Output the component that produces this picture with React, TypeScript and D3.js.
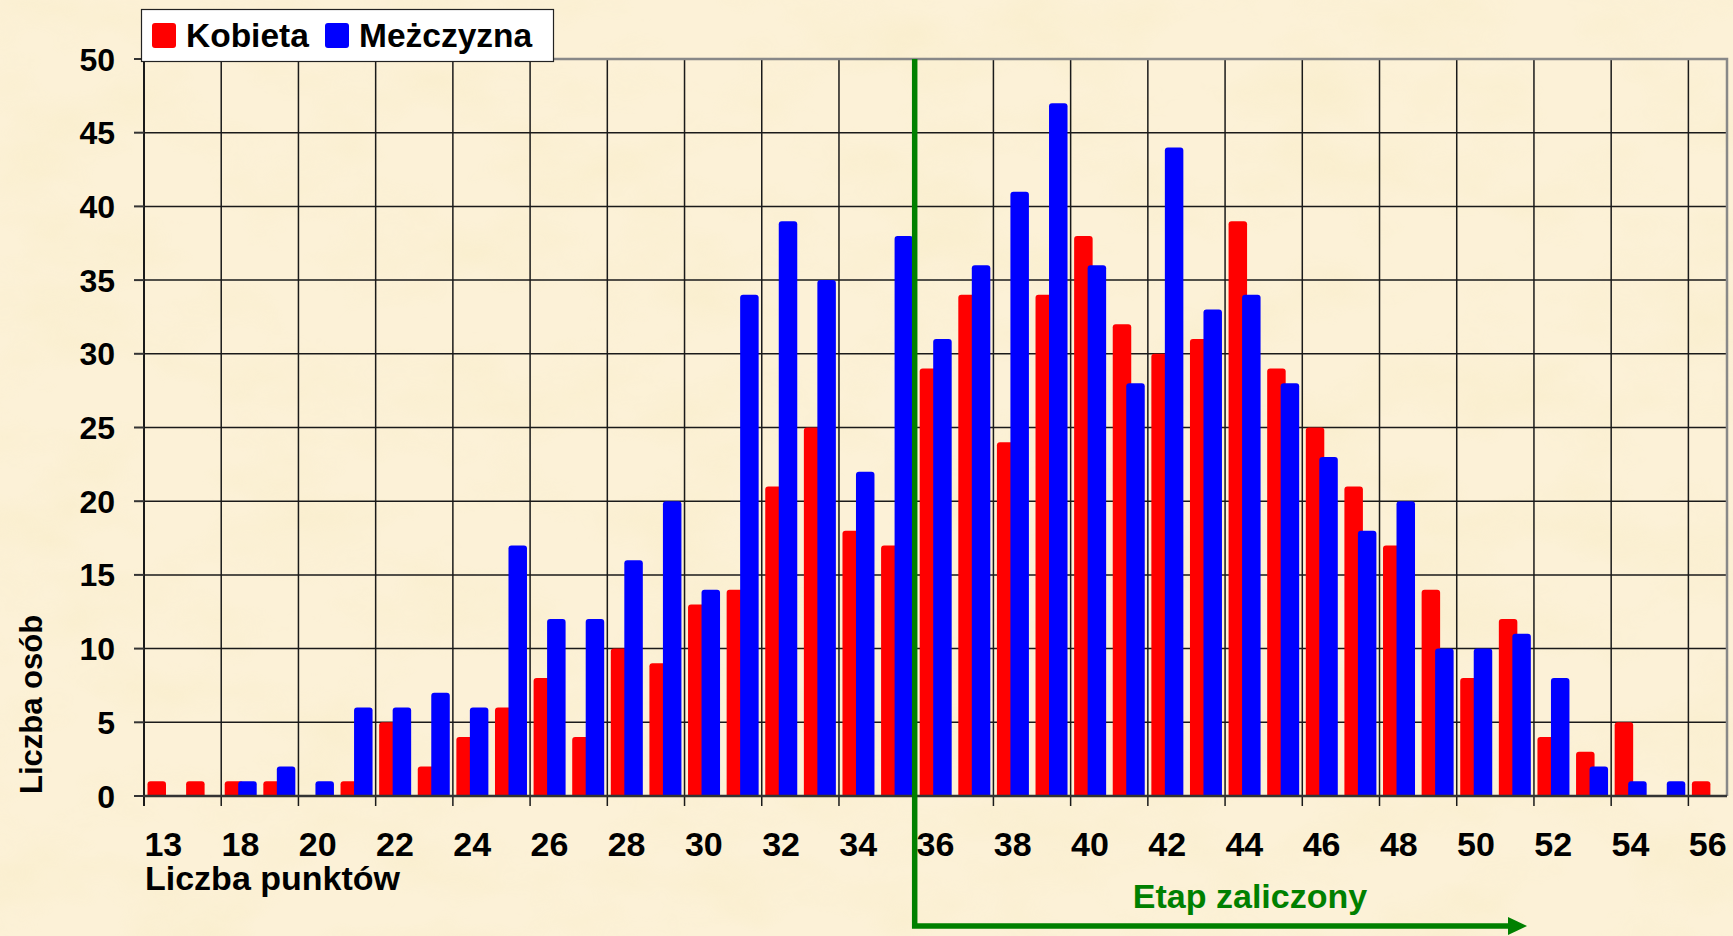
import { useEffect, useRef } from 'react'
import * as d3 from 'd3'

// Liczba punktów (the second bin has no label on the axis)
const categories = [
	'13', '17', '18', '19', '20', '21', '22', '23', '24', '25', '26', '27', '28', '29',
	'30', '31', '32', '33', '34', '35', '36', '37', '38', '39', '40', '41', '42', '43',
	'44', '45', '46', '47', '48', '49', '50', '51', '52', '53', '54', '55', '56',
]

const kobieta = [
	1, 1, 1, 1, 0, 1, 5, 2, 4, 6, 8, 4, 10, 9,
	13, 14, 21, 25, 18, 17, 29, 34, 24, 34, 38, 32, 30, 31,
	39, 29, 25, 21, 17, 14, 8, 12, 4, 3, 5, 0, 1,
]

const mezczyzna = [
	0, 0, 1, 2, 1, 6, 6, 7, 6, 17, 12, 12, 16, 20,
	14, 34, 39, 35, 22, 38, 31, 36, 41, 47, 36, 28, 44, 33,
	34, 28, 23, 18, 20, 10, 10, 11, 8, 2, 1, 1, 0,
]

const yTicks = [0, 5, 10, 15, 20, 25, 30, 35, 40, 45, 50]
const seriesNames = ['Kobieta', 'Meżczyzna']
const seriesColors = ['#ff0000', '#0000ff']
const passFrom = '36'

const FONT = '"Liberation Sans", Arial, sans-serif'

// bar with slightly rounded top corners
const barPath = (x0, y0, w, h, r) => {
	r = Math.min(r, h / 2, w / 2)
	return `M${x0},${y0 + h}V${y0 + r}Q${x0},${y0} ${x0 + r},${y0}H${x0 + w - r}Q${x0 + w},${y0} ${x0 + w},${y0 + r}V${y0 + h}Z`
}

const App = () => {
	const svgRef = useRef(null)

	useEffect(() => {
		document.body.style.margin = '0'
		document.body.style.overflow = 'hidden'

		const W = 1733
		const H = 936
		const margin = { top: 59, right: 6, bottom: 140, left: 144 }
		const bottom = H - margin.bottom

		const svg = d3.select(svgRef.current)
		svg.selectAll('*').remove()
		svg.attr('width', W).attr('height', H)

		// parchment background
		const defs = svg.append('defs')
		const filter = defs
			.append('filter')
			.attr('id', 'paper')
			.attr('x', 0)
			.attr('y', 0)
			.attr('width', '100%')
			.attr('height', '100%')
		filter
			.append('feTurbulence')
			.attr('type', 'fractalNoise')
			.attr('baseFrequency', '0.008 0.014')
			.attr('numOctaves', 4)
			.attr('seed', 7)
		filter
			.append('feColorMatrix')
			.attr('type', 'matrix')
			.attr('values', '0 0 0 0 0.92  0 0 0 0 0.82  0 0 0 0 0.52  1.8 0 0 0 -0.78')
		svg.append('rect').attr('width', W).attr('height', H).attr('fill', '#fcf1d7')
		svg
			.append('rect')
			.attr('width', W)
			.attr('height', H)
			.attr('filter', 'url(#paper)')
			.attr('opacity', 0.45)

		// scales
		const x = d3.scaleBand().domain(categories).range([margin.left, W - margin.right]).padding(0)
		const y = d3.scaleLinear().domain([0, 50]).range([bottom, margin.top])
		const bw = x.bandwidth()

		// horizontal grid
		svg
			.append('g')
			.selectAll('line')
			.data(yTicks.filter((d) => d > 0 && d < 50))
			.enter()
			.append('line')
			.attr('x1', margin.left)
			.attr('x2', W - margin.right)
			.attr('y1', (d) => y(d))
			.attr('y2', (d) => y(d))
			.attr('stroke', '#1a1a1a')
			.attr('stroke-width', 1.5)

		// vertical grid every second bin, running down as tick marks
		svg
			.append('g')
			.selectAll('line')
			.data(categories.filter((d, i) => i % 2 === 0 && i > 0))
			.enter()
			.append('line')
			.attr('x1', (d) => x(d))
			.attr('x2', (d) => x(d))
			.attr('y1', y(50))
			.attr('y2', bottom + 10)
			.attr('stroke', '#1a1a1a')
			.attr('stroke-width', 1.5)

		// top and right border
		svg
			.append('path')
			.attr('d', `M${margin.left},${y(50)}H${W - margin.right}V${bottom}`)
			.attr('fill', 'none')
			.attr('stroke', '#888')
			.attr('stroke-width', 2.5)

		// bars
		const series = [kobieta, mezczyzna]
		const barW = 18.5
		const offsets = [3.5, 17]
		series.forEach((vals, s) => {
			svg
				.append('g')
				.selectAll('path')
				.data(vals.map((v, i) => ({ v, c: categories[i] })).filter((d) => d.v > 0))
				.enter()
				.append('path')
				.attr('d', (d) =>
					barPath(x(d.c) + offsets[s], y(d.v), barW, bottom - y(d.v), 3)
				)
				.attr('fill', seriesColors[s])
		})

		// y axis line and ticks
		svg
			.append('line')
			.attr('x1', margin.left)
			.attr('x2', margin.left)
			.attr('y1', y(50))
			.attr('y2', bottom + 10)
			.attr('stroke', '#1a1a1a')
			.attr('stroke-width', 2)
		svg
			.append('g')
			.selectAll('line')
			.data(yTicks)
			.enter()
			.append('line')
			.attr('x1', margin.left - 10)
			.attr('x2', margin.left)
			.attr('y1', (d) => y(d))
			.attr('y2', (d) => y(d))
			.attr('stroke', '#333')
			.attr('stroke-width', 2)

		// x axis line
		svg
			.append('line')
			.attr('x1', margin.left)
			.attr('x2', W - margin.right)
			.attr('y1', bottom)
			.attr('y2', bottom)
			.attr('stroke', '#333')
			.attr('stroke-width', 2.5)

		// y tick labels
		svg
			.append('g')
			.selectAll('text')
			.data(yTicks)
			.enter()
			.append('text')
			.attr('x', margin.left - 29)
			.attr('y', (d) => y(d))
			.attr('dy', '0.36em')
			.attr('text-anchor', 'end')
			.style('font-family', FONT)
			.style('font-weight', 'bold')
			.style('font-size', '32px')
			.style('fill', '#000')
			.text((d) => d)

		// x tick labels (every second bin)
		svg
			.append('g')
			.selectAll('text')
			.data(categories.filter((d, i) => i % 2 === 0))
			.enter()
			.append('text')
			.attr('x', (d) => x(d) + bw / 2)
			.attr('y', bottom + 60)
			.attr('text-anchor', 'middle')
			.style('font-family', FONT)
			.style('font-weight', 'bold')
			.style('font-size', '34px')
			.style('fill', '#000')
			.text((d) => d)

		// axis titles
		svg
			.append('text')
			.attr('x', margin.left + 1)
			.attr('y', bottom + 94)
			.style('font-family', FONT)
			.style('font-weight', 'bold')
			.style('font-size', '34px')
			.style('fill', '#000')
			.text('Liczba punktów')

		svg
			.append('text')
			.attr('transform', `translate(42,${bottom - 2}) rotate(-90)`)
			.style('font-family', FONT)
			.style('font-weight', 'bold')
			.style('font-size', '31px')
			.style('fill', '#000')
			.text('Liczba osób')

		// pass threshold marker
		const green = '#008000'
		const gx = x(passFrom) - 1.5
		const arrowY = 926
		const arrowTip = 1527
		svg
			.append('path')
			.attr('d', `M${gx},${y(50)}V${arrowY}H${arrowTip - 16}`)
			.attr('fill', 'none')
			.attr('stroke', green)
			.attr('stroke-width', 5.5)
		svg
			.append('path')
			.attr('d', `M${arrowTip - 19},${arrowY - 9}L${arrowTip},${arrowY}L${arrowTip - 19},${arrowY + 9}Z`)
			.attr('fill', green)
		svg
			.append('text')
			.attr('x', 1250)
			.attr('y', 908)
			.attr('text-anchor', 'middle')
			.style('font-family', FONT)
			.style('font-weight', 'bold')
			.style('font-size', '34px')
			.style('fill', green)
			.text('Etap zaliczony')

		// legend
		const legend = svg.append('g')
		legend
			.append('rect')
			.attr('x', 141.5)
			.attr('y', 9.5)
			.attr('width', 412)
			.attr('height', 52)
			.attr('fill', '#fff')
			.attr('stroke', '#222')
			.attr('stroke-width', 1.2)
		const legendX = [152, 325]
		seriesNames.forEach((name, i) => {
			legend
				.append('rect')
				.attr('x', legendX[i])
				.attr('y', 23)
				.attr('width', 24)
				.attr('height', 25)
				.attr('rx', 3)
				.attr('fill', seriesColors[i])
			legend
				.append('text')
				.attr('x', legendX[i] + 34)
				.attr('y', 47)
				.style('font-family', FONT)
				.style('font-weight', 'bold')
				.style('font-size', '33.5px')
				.style('fill', '#000')
				.text(name)
		})
	}, [])

	return <svg ref={svgRef} style={{ display: 'block' }}></svg>
}

export default App
